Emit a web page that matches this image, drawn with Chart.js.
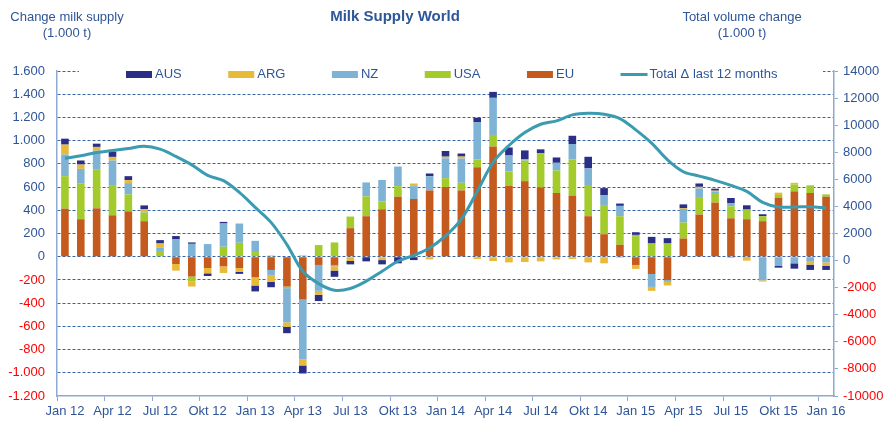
<!DOCTYPE html>
<html>
<head>
<meta charset="utf-8">
<script src="https://cdn.jsdelivr.net/npm/chart.js@4.4.1/dist/chart.umd.min.js"></script>
<style>
html,body{margin:0;padding:0;background:#fff;overflow:hidden}
#wrap{position:relative;width:889px;height:422px}
</style>
</head>
<body>
<div id="wrap"><canvas id="c" width="889" height="422"></canvas></div>
<script>
// ---------- data ----------
const categories = [
 "Jan 12","Feb 12","Mär 12","Apr 12","Mai 12","Jun 12","Jul 12","Aug 12","Sep 12","Okt 12","Nov 12","Dez 12",
 "Jan 13","Feb 13","Mär 13","Apr 13","Mai 13","Jun 13","Jul 13","Aug 13","Sep 13","Okt 13","Nov 13","Dez 13",
 "Jan 14","Feb 14","Mär 14","Apr 14","Mai 14","Jun 14","Jul 14","Aug 14","Sep 14","Okt 14","Nov 14","Dez 14",
 "Jan 15","Feb 15","Mär 15","Apr 15","Mai 15","Jun 15","Jul 15","Aug 15","Sep 15","Okt 15","Nov 15","Dez 15",
 "Jan 16"];
const tickLabels = ["Jan 12","Apr 12","Jul 12","Okt 12","Jan 13","Apr 13","Jul 13","Okt 13","Jan 14","Apr 14",
 "Jul 14","Okt 14","Jan 15","Apr 15","Jul 15","Okt 15","Jan 16"];

const euValues  = [414,323,417,357,391,306,0,-63,-171,-97,-83,-97,-177,-114,-257,-369,-71,-71,246,349,409,517,497,571,
                   600,571,771,949,609,651,597,549,526,349,194,103,-71,-149,-200,157,363,466,331,323,306,506,563,549,517];
const usaValues = [280,306,332,260,146,74,49,0,-43,0,86,120,40,10,-14,11,100,123,100,171,66,91,0,0,
                   77,66,66,100,126,177,294,194,311,269,251,246,177,114,114,137,151,83,103,83,43,26,60,66,20];
const nzValues  = [186,128,165,212,97,5,31,149,111,109,200,166,97,-43,-294,-514,-223,-11,0,120,186,169,111,123,
                   171,209,320,320,137,14,0,66,134,143,83,89,11,-111,-17,117,74,11,29,-11,-203,-80,-57,-37,-49];
const argValues = [86,37,32,31,26,23,34,-57,-43,-46,-57,-34,-71,-60,-40,-54,-34,-37,-37,0,-29,0,23,-23,
                   14,17,-20,-37,-49,-46,-40,-23,-20,-49,-57,-9,-34,-34,-31,6,14,9,-11,-23,-11,20,14,-31,-31];
const ausValues = [51,35,28,46,34,34,29,29,12,-23,14,-17,-51,-46,-54,-69,-54,-54,-29,-40,-37,-57,-29,23,
                   49,26,40,51,69,74,34,46,71,100,63,20,23,57,46,34,29,17,43,37,17,-14,-46,-46,-34];
const totalLast12 = [7550,7740,7980,8130,8280,8450,8230,7690,7070,6290,5900,5030,3930,2820,1180,-790,-1700,-2190,-2060,-1520,-790,-50,390,930,
                     1820,3070,5110,7250,8500,9460,10070,10320,10760,10880,10810,10490,9650,8670,7440,6560,6240,5920,5550,5110,4300,3960,3960,3980,3880];

const seriesNames = ["EU","USA","NZ","ARG","AUS","Total \u0394 last 12 months"];
const chartTitle = "Milk Supply World";
const leftAxisTitle = ["Change milk supply","(1.000 t)"];
const rightAxisTitle = ["Total volume change","(1.000 t)"];

// ---------- styles ----------
const FONT = '"Liberation Sans", Arial, sans-serif';
const TEXT_BLUE = '#2f5597';
const RED = '#ff0000';
const GRID = '#3564a8';
const AXIS = '#8eaad2';
const COLORS = ['#c55a1e','#a3cb2b','#7fb3d5','#e8ba3a','#2b2e86','#3a9bb1'];

Chart.defaults.font.family = FONT;
Chart.defaults.font.size = 13;

function fmtDots(v){
  const s = Math.abs(v).toString().replace(/\B(?=(\d{3})+(?!\d))/g, '.');
  return (v < 0 ? '-' : '') + s;
}

const barSeries = [euValues, usaValues, nzValues, argValues, ausValues];
const datasets = barSeries.map((vals, i) => ({
  type: 'bar',
  label: seriesNames[i],
  data: vals,
  backgroundColor: COLORS[i],
  borderWidth: 0,
  barPercentage: 0.48,
  categoryPercentage: 1.0,
  yAxisID: 'y',
  order: 1
}));
datasets.push({
  type: 'line',
  label: seriesNames[5],
  data: totalLast12,
  borderColor: COLORS[5],
  backgroundColor: COLORS[5],
  borderWidth: 3,
  pointRadius: 0,
  tension: 0.35,
  fill: false,
  yAxisID: 'y2',
  order: 0
});

const legendOrder = [4,3,2,1,0,5];

const overlay = {
  id: 'overlay',
  beforeDatasetsDraw(chart){
    const ctx = chart.ctx, ca = chart.chartArea;
    ctx.save();
    ctx.fillStyle = '#ffffff';
    ctx.fillRect(ca.left + 22, ca.top - 6, (ca.right - 11) - (ca.left + 22), 16);
    ctx.font = '13px ' + FONT;
    ctx.textBaseline = 'middle';
    ctx.textAlign = 'left';
    let x = ca.left + 69;
    const y = ca.top + 3.5;
    legendOrder.forEach(idx => {
      const ds = chart.data.datasets[idx];
      if (ds.type === 'line') {
        ctx.strokeStyle = ds.borderColor;
        ctx.lineWidth = 3;
        ctx.beginPath();
        ctx.moveTo(x, y); ctx.lineTo(x + 27, y);
        ctx.stroke();
      } else {
        ctx.fillStyle = ds.backgroundColor;
        ctx.fillRect(x, y - 3.5, 26, 7);
      }
      ctx.fillStyle = TEXT_BLUE;
      ctx.fillText(ds.label, x + 29, y);
      x += 26 + 3 + ctx.measureText(ds.label).width + 46.5;
    });
    ctx.restore();
  },
  afterDraw(chart){
    const ctx = chart.ctx;
    ctx.save();
    ctx.textAlign = 'center';
    ctx.textBaseline = 'middle';
    ctx.fillStyle = '#2d5796';
    ctx.font = 'bold 15px ' + FONT;
    ctx.fillText(chartTitle, 395, 17);
    ctx.font = '13px ' + FONT;
    ctx.fillStyle = TEXT_BLUE;
    ctx.fillText(leftAxisTitle[0], 67, 17);
    ctx.fillText(leftAxisTitle[1], 67, 33);
    ctx.fillText(rightAxisTitle[0], 742, 17);
    ctx.fillText(rightAxisTitle[1], 742, 33);
    ctx.restore();
  }
};

new Chart(document.getElementById('c'), {
  data: { labels: categories, datasets },
  options: {
    responsive: false,
    animation: false,
    layout: { padding: { top: 71, left: 0, right: 0, bottom: 0 } },
    plugins: { legend: { display: false }, title: { display: false }, tooltip: { enabled: false } },
    scales: {
      x: {
        type: 'category',
        stacked: true,
        offset: true,
        grid: {
          offset: true,
          drawOnChartArea: false,
          tickLength: 5,
          lineWidth: 1,
          tickColor: c => (c.index !== undefined && c.index % 3 === 0) ? AXIS : 'rgba(0,0,0,0)'
        },
        border: { color: AXIS, width: 1.5 },
        ticks: {
          autoSkip: false, maxRotation: 0, minRotation: 0, padding: 3,
          color: TEXT_BLUE, font: { size: 13 },
          callback: function(v, i){ const l = categories[i]; return tickLabels.includes(l) ? l : ''; }
        },
        afterFit: s => { s.height = 26; }
      },
      y: {
        position: 'left',
        stacked: true,
        min: -1200, max: 1600,
        ticks: {
          stepSize: 200, padding: 12, font: { size: 13 },
          color: c => (c.tick && c.tick.value < 0) ? RED : TEXT_BLUE,
          callback: v => fmtDots(v)
        },
        grid: {
          drawTicks: false,
          lineWidth: 1,
          color: c => (c.tick && c.tick.value === -1200) ? 'rgba(0,0,0,0)' : GRID
        },
        border: { color: AXIS, width: 1.5, dash: [3, 2] },
        afterFit: s => { s.width = 57; }
      },
      y2: {
        position: 'right',
        min: -10000, max: 14000,
        ticks: {
          stepSize: 2000, padding: 5, font: { size: 13 },
          color: c => (c.tick && c.tick.value < 0) ? RED : TEXT_BLUE,
          callback: v => String(v)
        },
        grid: { drawOnChartArea: false, tickLength: 4, tickColor: AXIS },
        border: { color: AXIS, width: 1.5 },
        afterFit: s => { s.width = 55; }
      }
    }
  },
  plugins: [overlay]
});
</script>
</body>
</html>
